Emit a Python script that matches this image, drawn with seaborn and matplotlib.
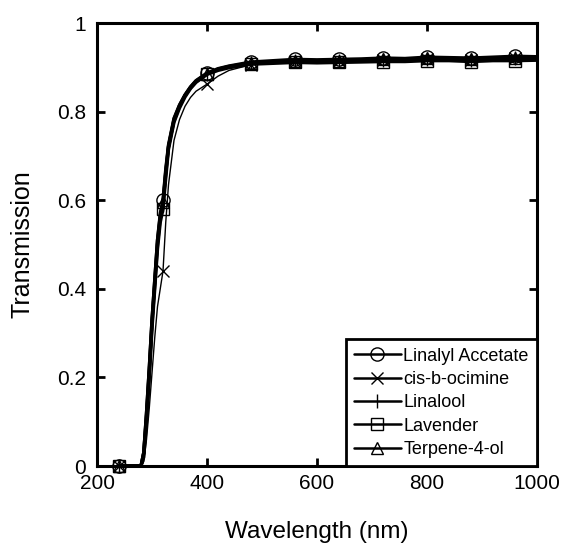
import matplotlib
matplotlib.use("Agg")
import matplotlib.pyplot as plt
import seaborn as sns
import pandas as pd

sns.set_theme(style="white")
plt.rcParams['font.family'] = ['Liberation Sans', 'DejaVu Sans']
plt.rcParams['text.color'] = 'black'
plt.rcParams['axes.labelcolor'] = 'black'

wavelength = [240, 270, 280, 285, 290, 295, 300, 305, 310, 315, 320, 325, 330, 340,
              350, 360, 370, 380, 400, 420, 440, 480, 520, 560, 600, 640, 680, 720,
              760, 800, 840, 880, 920, 960, 1000]

linalyl_acetate = [0.0, 0.0, 0.0, 0.03, 0.12, 0.22, 0.33, 0.42, 0.51, 0.57, 0.60, 0.67, 0.725,
                   0.785, 0.815, 0.838, 0.856, 0.870, 0.887, 0.897, 0.903, 0.912, 0.915, 0.918,
                   0.917, 0.918, 0.919, 0.921, 0.920, 0.923, 0.922, 0.921, 0.923, 0.925, 0.924]
cis_b_ocimine = [0.0, 0.0, 0.0, 0.01, 0.06, 0.13, 0.21, 0.29, 0.36, 0.40, 0.44, 0.55, 0.635,
                 0.735, 0.782, 0.812, 0.832, 0.846, 0.862, 0.880, 0.893, 0.906, 0.910, 0.913,
                 0.913, 0.914, 0.915, 0.916, 0.916, 0.918, 0.918, 0.917, 0.919, 0.920, 0.920]
linalool = [0.0, 0.0, 0.0, 0.03, 0.11, 0.21, 0.32, 0.41, 0.50, 0.56, 0.59, 0.66, 0.72,
            0.78, 0.812, 0.836, 0.854, 0.868, 0.885, 0.895, 0.901, 0.909, 0.911, 0.914,
            0.913, 0.914, 0.915, 0.917, 0.916, 0.919, 0.918, 0.917, 0.919, 0.920, 0.920]
lavender = [0.0, 0.0, 0.0, 0.02, 0.10, 0.20, 0.31, 0.40, 0.49, 0.55, 0.58, 0.65, 0.715,
            0.776, 0.808, 0.833, 0.852, 0.866, 0.884, 0.893, 0.899, 0.907, 0.909, 0.911,
            0.910, 0.911, 0.912, 0.913, 0.913, 0.915, 0.915, 0.913, 0.915, 0.915, 0.916]
terpene_4_ol = [0.0, 0.0, 0.0, 0.03, 0.12, 0.22, 0.33, 0.42, 0.51, 0.565, 0.595, 0.665, 0.722,
                0.783, 0.814, 0.837, 0.855, 0.869, 0.886, 0.896, 0.902, 0.910, 0.912, 0.915,
                0.914, 0.915, 0.916, 0.918, 0.917, 0.920, 0.919, 0.918, 0.920, 0.921, 0.921]

series_names = ["Linalyl Accetate", "cis-b-ocimine", "Linalool", "Lavender", "Terpene-4-ol"]
series_values = [linalyl_acetate, cis_b_ocimine, linalool, lavender, terpene_4_ol]
marker_wavelengths = [240, 320, 400, 480, 560, 640, 720, 800, 880, 960]
marker_idx = [wavelength.index(w) for w in marker_wavelengths]

markers = ["o", "x", "|", "s", "^"]
msizes = [9.5, 9, 10, 8.5, 8.5]
lws = [2.4, 1.0, 2.4, 2.4, 2.4]

fig = plt.figure(figsize=(5.62, 5.43), dpi=100)
ax = fig.add_axes([0.1726, 0.1418, 0.7829, 0.8158])

for name, vals, m, ms, lw in zip(series_names, series_values, markers, msizes, lws):
    df = pd.DataFrame({"Wavelength": wavelength, "Transmission": vals})
    sns.lineplot(data=df, x="Wavelength", y="Transmission", ax=ax, color="black",
                 linewidth=lw, marker=m, markersize=ms, markevery=marker_idx,
                 markerfacecolor="none", markeredgecolor="black", markeredgewidth=1.0,
                 label=name, clip_on=False, estimator=None, sort=False)

ax.set_xlim(200, 1000)
ax.set_ylim(0, 1)
ax.set_xticks([200, 400, 600, 800, 1000])
ax.set_yticks([0, 0.2, 0.4, 0.6, 0.8, 1.0])
ax.set_yticklabels(["0", "0.2", "0.4", "0.6", "0.8", "1"])
ax.set_xlabel("Wavelength (nm)", fontsize=17.5, labelpad=20)
ax.set_ylabel("Transmission", fontsize=18, labelpad=16)
ax.tick_params(axis="x", pad=6)
ax.tick_params(axis="y", pad=8)
ax.tick_params(axis="both", direction="in", length=6, width=2, labelsize=15,
               top=True, right=True, bottom=True, left=True, colors="black",
               labelcolor="black")
for sp in ax.spines.values():
    sp.set_linewidth(2.2)
    sp.set_color("black")
    sp.set_visible(True)

leg = ax.legend(loc="lower right", borderaxespad=0, fancybox=False, fontsize=13,
                handlelength=2.6, handletextpad=0.15, labelspacing=0.35,
                borderpad=0.45, framealpha=1)
leg.get_frame().set_edgecolor("black")
leg.get_frame().set_linewidth(2.0)
for h in leg.get_lines():
    h.set_linewidth(1.8)
for t in leg.get_texts():
    t.set_color("black")

fig.savefig("out.png", dpi=100)
